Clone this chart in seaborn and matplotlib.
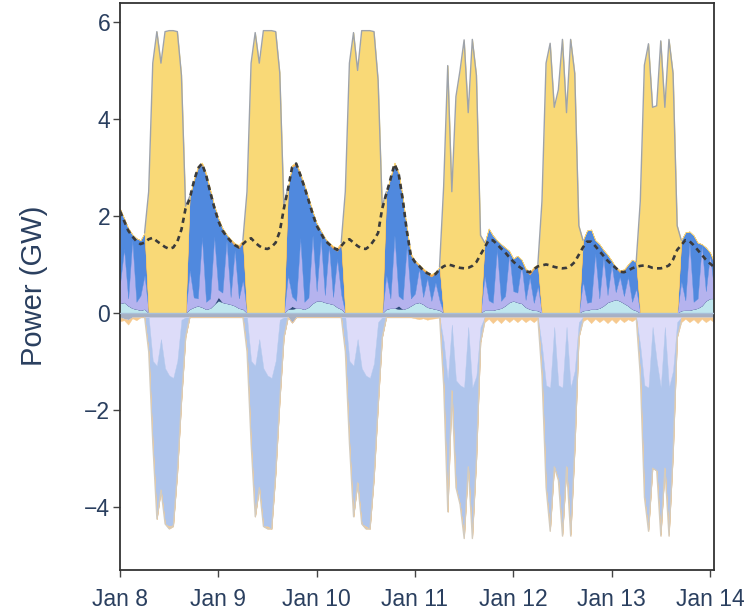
import numpy as np
import pandas as pd
import matplotlib
matplotlib.use("Agg")
import matplotlib.pyplot as plt
import matplotlib.dates as mdates
from matplotlib.ticker import FuncFormatter
import seaborn as sns

# Hourly snapshots from Jan 8 00:00 to Jan 14 01:00 (GW)
start = "2013-01-08 00:00"

load = [
    2.10, 1.90, 1.70, 1.58, 1.48, 1.42, 1.45, 1.52, 1.55, 1.48, 1.42, 1.36, 1.32, 1.35, 1.47, 1.72, 2.15, 2.35, 2.70, 2.98, 3.08, 2.85, 2.50, 2.18,
    1.90, 1.70, 1.58, 1.48, 1.40, 1.35, 1.42, 1.50, 1.54, 1.45, 1.38, 1.33, 1.32, 1.36, 1.45, 1.68, 2.15, 2.55, 3.00, 3.08, 2.85, 2.60, 2.33, 2.05,
    1.80, 1.65, 1.50, 1.42, 1.35, 1.30, 1.38, 1.48, 1.52, 1.45, 1.38, 1.33, 1.32, 1.38, 1.50, 1.65, 2.15, 2.45, 2.75, 3.07, 2.88, 2.35, 1.70, 1.18,
    1.05, 0.97, 0.88, 0.82, 0.78, 0.80, 0.90, 0.96, 1.00, 0.98, 0.95, 0.93, 0.92, 0.93, 0.97, 1.05, 1.20, 1.35, 1.50, 1.50, 1.42, 1.33, 1.25, 1.15,
    1.06, 0.98, 0.92, 0.86, 0.84, 0.90, 0.96, 0.98, 1.00, 0.98, 0.95, 0.93, 0.92, 0.93, 0.97, 1.05, 1.20, 1.35, 1.47, 1.47, 1.38, 1.28, 1.18, 1.08,
    1.00, 0.93, 0.85, 0.84, 0.87, 0.92, 0.95, 0.97, 0.98, 0.96, 0.93, 0.92, 0.92, 0.94, 0.98, 1.10, 1.30, 1.40, 1.50, 1.48, 1.40, 1.30, 1.20, 1.10,
    1.02, 0.95,
]

solar = [
    0, 0, 0, 0, 0, 0, 0, 2.50, 5.15, 5.80, 5.15, 5.80, 5.82, 5.82, 5.80, 4.90, 2.20, 0, 0, 0, 0, 0, 0, 0,
    0, 0, 0, 0, 0, 0, 0, 2.50, 5.15, 5.78, 5.15, 5.82, 5.82, 5.82, 5.80, 4.95, 2.20, 0, 0, 0, 0, 0, 0, 0,
    0, 0, 0, 0, 0, 0, 0, 2.50, 5.15, 5.78, 5.00, 5.82, 5.82, 5.82, 5.80, 4.80, 2.20, 0, 0, 0, 0, 0, 0, 0,
    0, 0, 0, 0, 0, 0, 0, 2.60, 5.10, 2.50, 4.46, 5.00, 5.63, 4.13, 5.64, 4.90, 1.60, 0, 0, 0, 0, 0, 0, 0,
    0, 0, 0, 0, 0, 0, 0, 2.30, 5.15, 5.56, 4.24, 4.60, 5.64, 4.13, 5.64, 4.94, 1.80, 0, 0, 0, 0, 0, 0, 0,
    0, 0, 0, 0, 0, 0, 0, 2.30, 5.11, 5.55, 4.24, 4.27, 5.61, 4.24, 5.64, 4.94, 1.80, 0, 0, 0, 0, 0, 0, 0,
    0, 0,
]

run_of_river = [
    0.20, 0.22, 0.15, 0.10, 0.08, 0.06, 0.08, 0, 0, 0, 0, 0, 0, 0, 0, 0, 0, 0.08, 0.12, 0.15, 0.12, 0.08, 0.10, 0.18,
    0.25, 0.22, 0.20, 0.18, 0.15, 0.10, 0.08, 0, 0, 0, 0, 0, 0, 0, 0, 0, 0, 0.08, 0.08, 0.10, 0.10, 0.08, 0.12, 0.20,
    0.25, 0.25, 0.22, 0.20, 0.18, 0.12, 0.08, 0, 0, 0, 0, 0, 0, 0, 0, 0, 0, 0.08, 0.10, 0.10, 0.08, 0.08, 0.10, 0.15,
    0.20, 0.22, 0.18, 0.12, 0.10, 0.08, 0.06, 0, 0, 0, 0, 0, 0, 0, 0, 0, 0, 0.06, 0.06, 0.06, 0.08, 0.10, 0.15, 0.22,
    0.25, 0.22, 0.20, 0.12, 0.08, 0.06, 0.05, 0, 0, 0, 0, 0, 0, 0, 0, 0, 0, 0.05, 0.06, 0.08, 0.08, 0.10, 0.15, 0.22,
    0.25, 0.28, 0.25, 0.20, 0.15, 0.08, 0.05, 0, 0, 0, 0, 0, 0, 0, 0, 0, 0, 0.05, 0.06, 0.06, 0.08, 0.10, 0.15, 0.25,
    0.30, 0.30,
]

gas = [
    0, 0, 0, 0, 0, 0, 0, 0, 0, 0, 0, 0, 0, 0, 0, 0, 0, 0, 0, 0, 0, 0, 0, 0,
    0.08, 0, 0, 0, 0, 0, 0, 0, 0, 0, 0, 0, 0, 0, 0, 0, 0, 0, 0.06, 0, 0, 0, 0, 0,
    0, 0, 0, 0, 0, 0, 0, 0, 0, 0, 0, 0, 0, 0, 0, 0, 0, 0, 0, 0, 0.07, 0, 0, 0,
    0, 0, 0, 0, 0, 0, 0, 0, 0, 0, 0, 0, 0, 0, 0, 0, 0, 0, 0, 0, 0, 0, 0, 0,
    0, 0, 0, 0, 0, 0, 0, 0, 0, 0, 0, 0, 0, 0, 0, 0, 0, 0, 0, 0, 0, 0, 0, 0,
    0, 0, 0, 0, 0, 0, 0, 0, 0, 0, 0, 0, 0, 0, 0, 0, 0, 0, 0, 0, 0, 0, 0, 0,
    0, 0,
]

battery_out = [
    0.40, 1.10, 0.15, 1.40, 0.15, 0.30, 0.70, 0, 0, 0, 0, 0, 0, 0, 0, 0, 0, 0.80, 0.20, 0.15, 1.45, 0.15, 0.20, 1.40,
    0.15, 0.20, 1.30, 0.15, 1.15, 0.20, 0.60, 0, 0, 0, 0, 0, 0, 0, 0, 0, 0, 0.70, 0.20, 0.15, 1.45, 0.15, 0.20, 1.40,
    0.20, 1.30, 0.15, 1.20, 0.15, 1.00, 0.30, 0, 0, 0, 0, 0, 0, 0, 0, 0, 0, 0.70, 0.20, 1.50, 0.20, 0.20, 1.30, 0.15,
    0.20, 0.70, 0.15, 0.60, 0.15, 0.55, 0.20, 0, 0, 0, 0, 0, 0, 0, 0, 0, 0, 0.70, 0.20, 0.15, 1.25, 0.15, 0.20, 1.00,
    0.20, 0.20, 0.80, 0.15, 0.65, 0.15, 0.50, 0, 0, 0, 0, 0, 0, 0, 0, 0, 0, 0.60, 0.15, 0.15, 1.15, 0.20, 1.00, 0.15,
    0.75, 0.15, 0.50, 0.15, 0.60, 0.15, 0.45, 0, 0, 0, 0, 0, 0, 0, 0, 0, 0, 0.60, 0.20, 1.40, 0.15, 0.20, 1.25, 0.20,
    0.90, 0.20,
]

hydrogen_out = [
    1.55, 0.63, 1.45, 0.12, 1.31, 1.14, 0.87, 0, 0, 0, 0, 0, 0, 0, 0, 0, 0, 1.52, 2.40, 2.68, 1.49, 2.60, 2.21, 0.64,
    1.47, 1.33, 0.12, 1.16, 0.09, 1.04, 0.78, 0, 0, 0, 0, 0, 0, 0, 0, 0, 0, 1.82, 2.67, 2.81, 1.29, 2.39, 2.03, 0.50,
    1.40, 0.15, 1.18, 0.02, 1.00, 0.16, 1.02, 0, 0, 0, 0, 0, 0, 0, 0, 0, 0, 1.72, 2.47, 1.46, 2.52, 2.10, 0.33, 0.89,
    0.65, 0.05, 0.55, 0.08, 0.50, 0.19, 0.69, 0, 0, 0, 0, 0, 0, 0, 0, 0, 0, 0.69, 1.48, 1.39, 0.17, 1.17, 1.00, 0.06,
    0.67, 0.76, 0.10, 0.62, 0.06, 0.70, 0.45, 0, 0, 0, 0, 0, 0, 0, 0, 0, 0, 0.85, 1.49, 1.49, 0.27, 1.12, 0.15, 0.83,
    0.08, 0.50, 0.09, 0.52, 0.25, 0.87, 0.55, 0, 0, 0, 0, 0, 0, 0, 0, 0, 0, 0.85, 1.40, 0.22, 1.37, 1.15, 0.02, 0.90,
    0.05, 0.52,
]

imports = [
    0, 0, 0, 0, 0, 0, 0, 0, 0, 0, 0, 0, 0, 0, 0, 0, 0, 0, 0.03, 0.04, 0.04, 0.05, 0.04, 0,
    0, 0, 0, 0.03, 0.05, 0.06, 0.04, 0, 0, 0, 0, 0, 0, 0, 0, 0, 0, 0, 0.04, 0.04, 0.04, 0.03, 0.03, 0,
    0, 0, 0, 0.03, 0.05, 0.06, 0.05, 0, 0, 0, 0, 0, 0, 0, 0, 0, 0, 0, 0.03, 0.04, 0.03, 0.02, 0.02, 0.03,
    0.03, 0.03, 0.04, 0.05, 0.05, 0.03, 0, 0, 0, 0, 0, 0, 0, 0, 0, 0, 0, 0, 0, 0, 0, 0, 0, 0,
    0, 0, 0, 0.03, 0.05, 0.04, 0, 0, 0, 0, 0, 0, 0, 0, 0, 0, 0, 0, 0, 0, 0, 0, 0, 0,
    0, 0.02, 0.04, 0.03, 0, 0, 0, 0, 0, 0, 0, 0, 0, 0, 0, 0, 0, 0, 0, 0, 0, 0, 0, 0,
    0, 0.04,
]

# Consumption side, plotted below zero
losses = [
    0.09, 0.12, 0.14, 0.09, 0.09, 0.09, 0.09, 0.09, 0.09, 0.09, 0.09, 0.09, 0.09, 0.09, 0.09, 0.09, 0.09, 0.09, 0.09, 0.09, 0.09, 0.09, 0.09, 0.09,
    0.09, 0.09, 0.09, 0.09, 0.09, 0.09, 0.09, 0.09, 0.09, 0.09, 0.09, 0.09, 0.09, 0.09, 0.09, 0.09, 0.09, 0.09, 0.20, 0.09, 0.09, 0.09, 0.09, 0.09,
    0.09, 0.09, 0.09, 0.09, 0.09, 0.09, 0.09, 0.09, 0.09, 0.09, 0.09, 0.09, 0.09, 0.09, 0.09, 0.09, 0.09, 0.09, 0.09, 0.09, 0.09, 0.09, 0.09, 0.09,
    0.09, 0.09, 0.09, 0.09, 0.09, 0.09, 0.09, 0.09, 0.09, 0.09, 0.09, 0.09, 0.09, 0.09, 0.09, 0.09, 0.09, 0.09, 0.09, 0.09, 0.09, 0.09, 0.09, 0.09,
    0.09, 0.09, 0.09, 0.09, 0.09, 0.09, 0.09, 0.09, 0.09, 0.09, 0.09, 0.09, 0.09, 0.09, 0.09, 0.09, 0.09, 0.09, 0.09, 0.09, 0.09, 0.09, 0.09, 0.09,
    0.09, 0.09, 0.09, 0.09, 0.09, 0.09, 0.09, 0.09, 0.09, 0.09, 0.09, 0.09, 0.09, 0.09, 0.09, 0.09, 0.09, 0.09, 0.09, 0.09, 0.09, 0.09, 0.09, 0.09,
    0.09, 0.09,
]

battery_in = [
    0, 0, 0, 0, 0, 0, 0, 0, 0.90, 1.00, 0.45, 1.05, 1.20, 1.25, 0.90, 0.05, 0, 0, 0, 0, 0, 0, 0, 0,
    0, 0, 0, 0, 0, 0, 0, 0, 0.90, 1.00, 0.45, 1.05, 1.20, 1.25, 0.90, 0.05, 0, 0, 0, 0, 0, 0, 0, 0,
    0, 0, 0, 0, 0, 0, 0, 0, 0.90, 1.00, 0.45, 1.05, 1.20, 1.25, 0.95, 0.10, 0, 0, 0, 0, 0, 0, 0, 0,
    0, 0, 0, 0, 0, 0, 0, 0.50, 1.30, 0.15, 1.30, 1.40, 1.45, 0.20, 1.45, 1.20, 0.20, 0, 0, 0, 0, 0, 0, 0,
    0, 0, 0, 0, 0, 0, 0, 0.60, 1.40, 1.45, 0.20, 1.40, 1.45, 0.20, 1.45, 1.10, 0.10, 0, 0, 0, 0, 0, 0, 0,
    0, 0, 0, 0, 0, 0, 0, 0.60, 1.40, 1.45, 0.20, 0.90, 1.45, 0.20, 1.45, 1.10, 0.10, 0, 0, 0, 0, 0, 0, 0,
    0, 0,
]

electrolysis = [
    0, 0, 0, 0, 0, 0, 0, 0.71, 1.71, 3.16, 3.11, 3.21, 3.11, 3.03, 2.31, 1.66, 0.41, 0, 0, 0, 0, 0, 0, 0,
    0, 0, 0, 0, 0, 0, 0, 0.71, 1.71, 3.11, 3.06, 3.26, 3.11, 3.11, 2.31, 1.66, 0.41, 0, 0, 0, 0, 0, 0, 0,
    0, 0, 0, 0, 0, 0, 0, 0.71, 1.71, 3.11, 2.96, 3.21, 3.11, 3.11, 2.36, 1.71, 0.41, 0, 0, 0, 0, 0, 0, 0,
    0, 0, 0, 0, 0, 0, 0, 0.91, 2.71, 1.36, 2.21, 2.46, 3.07, 2.88, 3.07, 1.71, 0.31, 0, 0, 0, 0, 0, 0, 0,
    0, 0, 0, 0, 0, 0, 0, 0.61, 2.11, 2.92, 2.88, 1.96, 3.02, 2.88, 3.02, 1.61, 0.31, 0, 0, 0, 0, 0, 0, 0,
    0, 0, 0, 0, 0, 0, 0, 0.61, 2.31, 2.92, 2.91, 2.26, 3.02, 2.91, 3.02, 1.71, 0.31, 0, 0, 0, 0, 0, 0, 0,
    0, 0,
]

exports = [
    0.08, 0.03, 0.10, 0.02, 0.06, 0, 0, 0, 0, 0, 0, 0, 0.05, 0.03, 0, 0, 0, 0, 0, 0, 0, 0, 0, 0,
    0, 0, 0, 0, 0, 0, 0, 0, 0, 0, 0, 0, 0.05, 0, 0, 0, 0, 0, 0, 0, 0, 0, 0, 0,
    0, 0, 0, 0, 0, 0, 0, 0, 0, 0, 0, 0, 0.05, 0, 0, 0, 0, 0, 0, 0, 0, 0, 0, 0,
    0.02, 0.04, 0.02, 0.05, 0.03, 0.02, 0, 0, 0, 0, 0, 0, 0.04, 0, 0.04, 0, 0, 0.10, 0.03, 0.12, 0.04, 0.12, 0.03, 0.10,
    0.03, 0.10, 0.03, 0.10, 0.04, 0.10, 0.03, 0, 0, 0.04, 0, 0, 0.04, 0, 0.04, 0, 0, 0.08, 0.03, 0.12, 0.03, 0.10, 0.04, 0.12,
    0.04, 0.12, 0.03, 0.10, 0.04, 0.08, 0.02, 0, 0, 0.04, 0, 0, 0.04, 0, 0.04, 0, 0, 0.10, 0.03, 0.10, 0.04, 0.12, 0.03, 0.10,
    0.04, 0.10,
]

tick_days = ["2013-01-08", "2013-01-09", "2013-01-10", "2013-01-11",
             "2013-01-12", "2013-01-13", "2013-01-14"]

# ---------------------------------------------------------------------------
sns.set_theme(style="ticks")
plt.rcParams["font.family"] = ["Liberation Sans", "DejaVu Sans"]

time = pd.date_range(start, periods=len(load), freq="h")
df = pd.DataFrame({
    "time": time, "load": load, "solar": solar, "ror": run_of_river, "gas": gas,
    "bat_out": battery_out, "h2_out": hydrogen_out, "imports": imports,
    "losses": losses, "bat_in": battery_in, "h2_in": electrolysis, "exports": exports,
})

fig = plt.figure(figsize=(7.49, 6.13), dpi=100)
ax = fig.add_axes([0.1602, 0.0701, 0.7931, 0.9258])

pos_cols = ["ror", "gas", "bat_out", "h2_out", "imports", "solar"]
pos_colors = ["#bfe6ee", "#2f4b7c", "#b5b3ee", "#5089de", "#f0a64c", "#f9d977"]
neg_cols = ["losses", "bat_in", "h2_in", "exports"]
neg_colors = ["#a7b0c3", "#dddcf9", "#afc5ec", "#f6c98e"]

ax.stackplot(df["time"], *[df[c] for c in pos_cols], colors=pos_colors,
             edgecolor="face", linewidth=0.3, zorder=2)
ax.stackplot(df["time"], *[-df[c] for c in neg_cols], colors=neg_colors,
             edgecolor="face", linewidth=0.3, zorder=2)

# thin outlines on the daytime envelopes
sun = df["solar"].to_numpy() > 0
day = sun.copy()
day[1:] |= sun[:-1]
day[:-1] |= sun[1:]
top = df[pos_cols].sum(axis=1).to_numpy()
bottom = -df[neg_cols].sum(axis=1).to_numpy()
ax.plot(df["time"], np.where(day, top, np.nan), color="#9ea3aa", lw=1.0, zorder=3)
ax.plot(df["time"], np.where(day, bottom, np.nan), color="#d3ccc0", lw=0.9, zorder=3)
ax.axhline(0, color="#a9bfd8", lw=1.0, zorder=3)

sns.lineplot(data=df, x="time", y="load", ax=ax, color="#3a3a3a", lw=1.9,
             linestyle=(0, (2.0, 1.6)), zorder=4)

ax.set_xlim(df["time"].iloc[0], df["time"].iloc[-1])
ax.set_ylim(-5.30, 6.40)
ax.set_yticks([-4, -2, 0, 2, 4, 6])
ax.yaxis.set_major_formatter(FuncFormatter(lambda v, p: f"{int(v)}".replace("-", "\u2212")))
ax.set_xticks(pd.to_datetime(tick_days))
ax.xaxis.set_major_formatter(FuncFormatter(
    lambda v, p: f"{mdates.num2date(v):%b} {mdates.num2date(v).day}"))

ax.set_xlabel("")
ax.set_ylabel("Power (GW)", fontsize=21, color="#2a3f5f")
ax.yaxis.set_label_coords(-0.121, 0.5)

ax.tick_params(axis="both", labelsize=16.5, labelcolor="#2a3f5f", color="#444444",
               length=5, width=1.0, direction="out")
ax.tick_params(axis="y", pad=2)
ax.tick_params(axis="x", pad=8)
for s in ax.spines.values():
    s.set_visible(True)
    s.set_color("#333333")
    s.set_linewidth(1.3)
ax.grid(False)

fig.savefig("out.png", dpi=100)
